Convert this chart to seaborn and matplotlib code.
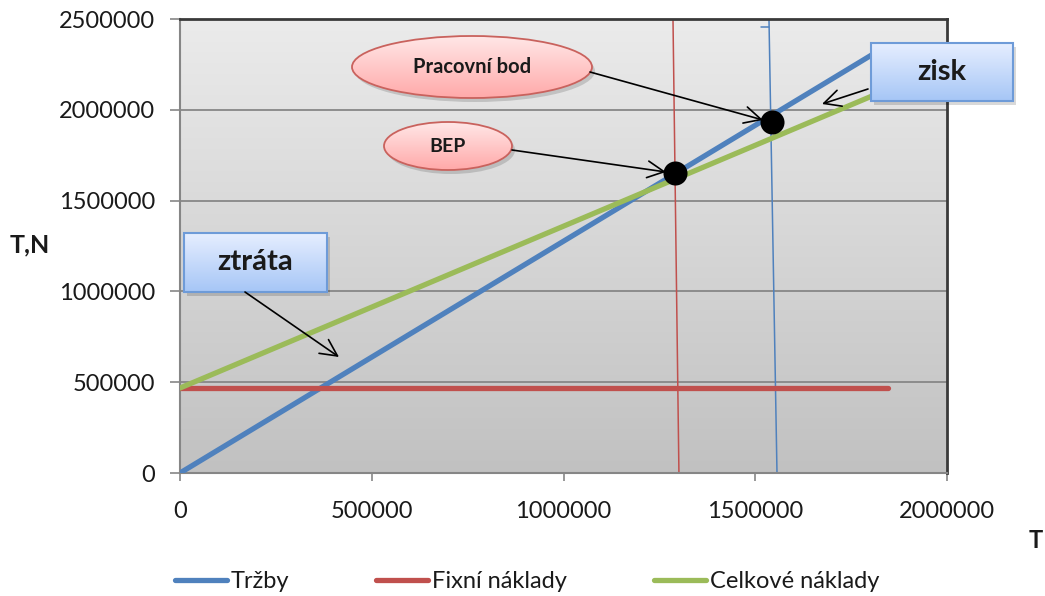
import numpy as np
import pandas as pd
import matplotlib
matplotlib.use("Agg")
import matplotlib.pyplot as plt
from matplotlib.colors import LinearSegmentedColormap
from matplotlib.patches import Ellipse, Rectangle
from matplotlib.lines import Line2D
import seaborn as sns

# ---- data ----
objem = [0, 1845000]
trzby = [0, 2355000]
fixni = [468000, 468000]
celkove = [468000, 2112000]
labels = ["Tržby", "Fixní náklady", "Celkové náklady"]
colors = ["#4F81BD", "#C0504D", "#9BBB59"]

bep_x, bep_y = [1290000], [1652000]
prac_x, prac_y = [1543000], [1934000]
red_vx, red_vy = [1301000, 1285500], [0, 2500000]
blue_vx, blue_vy = [1556700, 1535800], [0, 2500000]
blue_tick_x, blue_tick_y = [1514200, 1535800], [2458000, 2458000]

xticks = [0, 500000, 1000000, 1500000, 2000000]
yticks = [0, 500000, 1000000, 1500000, 2000000, 2500000]

sns.set_theme(style="white")
plt.rcParams["font.family"] = ["Lato", "DejaVu Sans"]

fig = plt.figure(figsize=(10.45, 5.96), dpi=100)
ax = fig.add_axes([180/1045, 1-473/596, 767/1045, 454/596])
ax.patch.set_visible(False)

# background gradient
bg = LinearSegmentedColormap.from_list("bg", ["#EBEBEB", "#C1C1C1"])
ax.imshow(np.linspace(0, 1, 256).reshape(-1, 1), cmap=bg, extent=[0, 1, 0, 1],
          transform=ax.transAxes, aspect="auto", origin="upper", zorder=-10)

df = pd.DataFrame({"x": objem * 3,
                   "y": trzby + fixni + celkove,
                   "serie": sum([[l] * 2 for l in labels], [])})
for lab, col in zip(labels, colors):
    d = df[df.serie == lab]
    sns.lineplot(data=d, x="x", y="y", color=col, lw=3.8, ax=ax, sort=False,
                 zorder=3, solid_capstyle="round", legend=False)

sns.lineplot(x=red_vx, y=red_vy, color="#C0504D", lw=1.1, ax=ax, sort=False, zorder=2.5)
sns.lineplot(x=blue_vx, y=blue_vy, color="#4F81BD", lw=1.1, ax=ax, sort=False, zorder=2.5)
sns.lineplot(x=blue_tick_x, y=blue_tick_y, color="#4F81BD", lw=1.1, ax=ax, sort=False, zorder=2.5)

sns.scatterplot(x=bep_x + prac_x, y=bep_y + prac_y, color="black", s=300, ax=ax,
                zorder=5, edgecolor="black", linewidth=0)

ax.set_xlim(0, 2000000)
ax.set_ylim(0, 2500000)
ax.set_xticks(xticks)
ax.set_yticks(yticks)
ax.set_xticklabels([str(v) for v in xticks])
ax.set_yticklabels([str(v) for v in yticks])
ax.set_xlabel("")
ax.set_ylabel("")
ax.yaxis.grid(True, color="#878787", lw=1.3)
ax.xaxis.grid(False)
ax.set_axisbelow(True)
ax.tick_params(axis="y", direction="out", length=7, width=1.2, color="#868686",
               pad=11, labelsize=17, labelcolor="#1a1a1a", left=True)
ax.tick_params(axis="x", direction="out", length=6, width=1.2, color="#868686",
               pad=14, labelsize=17, labelcolor="#1a1a1a", bottom=True)
for s in ["left", "bottom"]:
    ax.spines[s].set_color("#868686")
    ax.spines[s].set_linewidth(1.5)
for s in ["top", "right"]:
    ax.spines[s].set_color("#3a3a3a")
    ax.spines[s].set_linewidth(2)
    ax.spines[s].set_visible(True)

px = 2e6 / 767
py = 2.5e6 / 454

def ellipse(cx, cy, w, h, text, fs):
    sh = Ellipse((cx + 3*px, cy - 4*py), w, h, facecolor="#000000", alpha=0.15,
                 edgecolor="none", zorder=6)
    ax.add_patch(sh)
    e = Ellipse((cx, cy), w, h, facecolor="none", edgecolor="#C9625D", lw=1.3, zorder=7.5)
    ax.add_patch(e)
    cm = LinearSegmentedColormap.from_list("pk", ["#FFE7E7", "#FFA9A9"])
    im = ax.imshow(np.linspace(0, 1, 128).reshape(-1, 1), cmap=cm,
                   extent=[cx-w/2, cx+w/2, cy-h/2, cy+h/2], aspect="auto",
                   origin="upper", zorder=7)
    im.set_clip_path(e)
    ax.text(cx, cy, text, ha="center", va="center", fontsize=fs, fontweight="bold",
            color="#1a1a1a", zorder=8)

def box(x0, y0, x1, y1, text, fs):
    sh = Rectangle((x0 + 3*px, y0 - 4*py), x1-x0, y1-y0, facecolor="#000000", alpha=0.15,
                   edgecolor="none", zorder=6, clip_on=False)
    ax.add_patch(sh)
    cm = LinearSegmentedColormap.from_list("bl", ["#E6EEFF", "#A6C6F6"])
    ax.imshow(np.linspace(0, 1, 128).reshape(-1, 1), cmap=cm, extent=[x0, x1, y0, y1],
              aspect="auto", origin="upper", zorder=7, clip_on=False)
    r = Rectangle((x0, y0), x1-x0, y1-y0, facecolor="none", edgecolor="#6E9BD8",
                  lw=1.5, zorder=7.5, clip_on=False)
    ax.add_patch(r)
    ax.text((x0+x1)/2, (y0+y1)/2, text, ha="center", va="center", fontsize=fs,
            fontweight="bold", color="#1a1a1a", zorder=8)

def d(xp, yp):
    return ((xp - 180) * px, (473 - yp) * py)

ellipse(*d(472, 67), 240*px, 62*py, "Pracovní bod", 14.5)
ellipse(*d(448, 146), 128*px, 48*py, "BEP", 14)
bx0, by0 = d(184, 292); bx1, by1 = d(327, 233)
box(bx0, by0, bx1, by1, "ztráta", 21)
zx0, zy0 = d(871, 101); zx1, zy1 = d(1013, 43)
box(zx0, zy0, zx1, zy1, "zisk", 21)

arr = dict(arrowstyle="->,head_length=0.6,head_width=0.3", color="black", lw=1.2,
           mutation_scale=20, shrinkA=0, shrinkB=0)
for start, end in [((590, 72), (763, 120)), ((512, 150), (666, 172)),
                   ((245, 292), (339, 357)), ((868, 89), (822, 104))]:
    ax.annotate("", xy=d(*end), xytext=d(*start), arrowprops=arr, zorder=9,
                annotation_clip=False)

fig.text(30/1045, 1-245/596, "T,N", ha="center", va="center", fontsize=18,
         fontweight="bold", color="#1a1a1a")
fig.text(1036/1045, 1-540/596, "T", ha="center", va="center", fontsize=17,
         fontweight="bold", color="#1a1a1a")

handles = [Line2D([0], [0], color=c, lw=3.8, solid_capstyle="round") for c in colors]
fig.legend(handles, labels, loc="center", bbox_to_anchor=(527/1045, 1-582/596),
           ncol=3, frameon=False, fontsize=17, handlelength=2.2, handletextpad=0.15,
           columnspacing=3.7, labelcolor="#1a1a1a")

fig.savefig("out.png", dpi=100)
